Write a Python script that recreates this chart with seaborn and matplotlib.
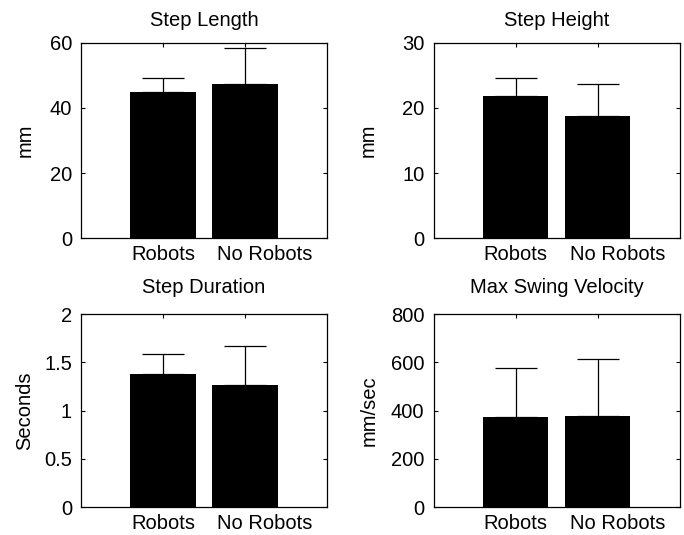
import matplotlib
matplotlib.use("Agg")
import matplotlib.pyplot as plt
import matplotlib.transforms as mtransforms
import seaborn as sns
import pandas as pd

# ---- data ----
groups = ["Robots", "No Robots"]
titles = ["Step Length", "Step Height", "Step Duration", "Max Swing Velocity"]
ylabels = ["mm", "mm", "Seconds", "mm/sec"]
step_length_mean = [44.9, 47.2]
step_length_err = [4.3, 11.3]
step_height_mean = [21.8, 18.8]
step_height_err = [2.8, 4.8]
step_duration_mean = [1.38, 1.27]
step_duration_err = [0.21, 0.40]
swing_velocity_mean = [372, 378]
swing_velocity_err = [206, 237]
yticks_list = [[0, 20, 40, 60], [0, 10, 20, 30], [0, 0.5, 1, 1.5, 2], [0, 200, 400, 600, 800]]
means_list = [step_length_mean, step_height_mean, step_duration_mean, swing_velocity_mean]
errs_list = [step_length_err, step_height_err, step_duration_err, swing_velocity_err]

sns.set_theme(style="white")
plt.rcParams["font.family"] = ["Liberation Sans", "DejaVu Sans"]
plt.rcParams["text.color"] = "black"
plt.rcParams["axes.labelcolor"] = "black"
plt.rcParams["axes.titlecolor"] = "black"
FS = 14.5

fig = plt.figure(figsize=(6.84, 5.35), dpi=100)
positions = [
    [81 / 684, (535 - 238.3) / 535, 246 / 684, 195.6 / 535],
    [433.5 / 684, (535 - 238.3) / 535, 246 / 684, 195.6 / 535],
    [81 / 684, (535 - 507.3) / 535, 246 / 684, 193.3 / 535],
    [433.5 / 684, (535 - 507.3) / 535, 246 / 684, 193.3 / 535],
]
label_x = [-0.19, -0.225, -0.19, -0.222]
title_pads = [12, 12, 15, 15]

for i in range(4):
    ax = fig.add_axes(positions[i])
    df = pd.DataFrame({"group": groups, "value": means_list[i]})
    sns.barplot(data=df, x="group", y="value", color="black", saturation=1,
                width=0.8, errorbar=None, ax=ax, edgecolor="black", linewidth=0)
    xs = list(range(len(groups)))
    ax.errorbar(xs, means_list[i], yerr=[[0] * len(groups), errs_list[i]],
                fmt="none", ecolor="black", elinewidth=0.9, capsize=15,
                capthick=0.9, zorder=5)
    ax.set_xlim(-1, 2)
    yt = yticks_list[i]
    ax.set_ylim(yt[0], yt[-1])
    ax.set_yticks(yt)
    ax.set_yticklabels(["%g" % v for v in yt])
    ax.set_xticks(xs)
    ax.set_xticklabels(groups)
    ax.set_xlabel("")
    ax.set_ylabel(ylabels[i], fontsize=FS, color="black")
    ax.yaxis.set_label_coords(label_x[i], 0.5)
    ax.set_title(titles[i], fontsize=FS, pad=title_pads[i], color="black")
    ax.tick_params(axis="both", direction="in", length=3, width=0.8,
                   top=True, right=True, bottom=True, left=True,
                   labelsize=FS, colors="black")
    ax.tick_params(axis="x", pad=5)
    ax.tick_params(axis="y", pad=6.5)
    for sp in ax.spines.values():
        sp.set_visible(True)
        sp.set_color("black")
        sp.set_linewidth(0.9)
    # shift second tick label to the right as in the reference
    lab = ax.get_xticklabels()[1]
    offset = mtransforms.ScaledTranslation(20 / 100, 0, fig.dpi_scale_trans)
    lab.set_transform(lab.get_transform() + offset)

fig.savefig("out.png", dpi=100, facecolor="white")
